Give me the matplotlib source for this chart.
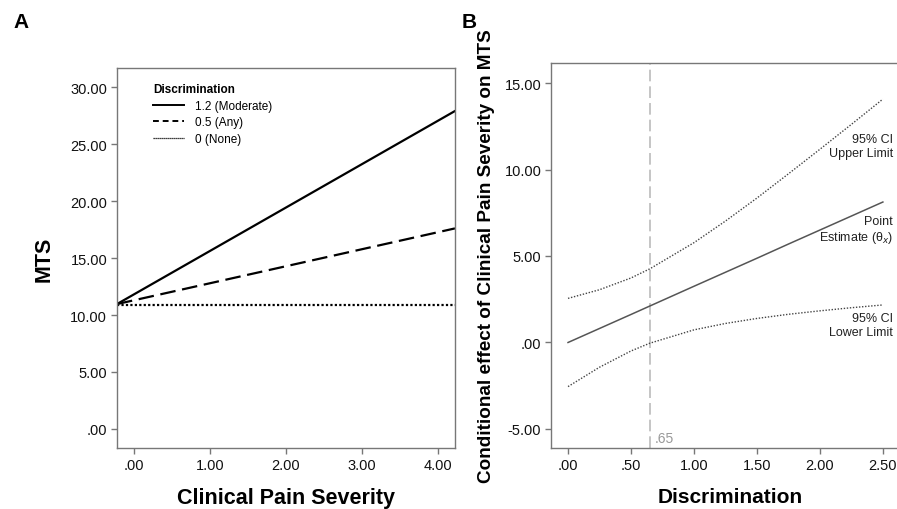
import matplotlib.pyplot as plt
from matplotlib.lines import Line2D

plt.rcParams['font.family'] = ['Liberation Sans', 'DejaVu Sans']

# ---- panel A data: simple slopes of MTS on clinical pain severity
pain_x = [-0.22, 4.22]
mts_moderate = [10.96, 27.9]
mts_any = [10.96, 17.6]
mts_none = [10.9, 10.9]
disc_labels = ["1.2 (Moderate)", "0.5 (Any)", "0 (None)"]

# ---- panel B data: conditional effect over discrimination
disc_x = [0.0, 0.25, 0.5, 0.65, 1.0, 1.25, 1.5, 1.75, 2.0, 2.25, 2.5]
effect_est = [0.0, 0.81, 1.62, 2.11, 3.25, 4.06, 4.87, 5.69, 6.5, 7.31, 8.12]
effect_upper = [2.55, 3.05, 3.73, 4.26, 5.77, 7.02, 8.35, 9.75, 11.17, 12.61, 14.07]
effect_lower = [-2.55, -1.43, -0.49, -0.04, 0.73, 1.10, 1.39, 1.63, 1.83, 2.01, 2.17]
jn_point = 0.65

spine_col = '#777777'

fig = plt.figure(figsize=(8.97, 5.10), dpi=100)
axA = fig.add_axes([0.1304, 0.1196, 0.3768, 0.745])
axB = fig.add_axes([0.6143, 0.1196, 0.40, 0.755])


def style_axis(ax):
    for s in ax.spines.values():
        s.set_color(spine_col)
        s.set_linewidth(1.0)
    ax.tick_params(direction='out', length=4, width=1, color=spine_col,
                   labelsize=10.5, labelcolor='#111111', pad=3)


# ============ Panel A ============
axA.plot(pain_x, mts_moderate, color='black', lw=1.6, ls='-')
axA.plot(pain_x, mts_any, color='black', lw=1.6, ls=(0, (7, 3)))
axA.plot(pain_x, mts_none, color='black', lw=1.6, ls=(0, (1, 1)))
axA.set_xlim(-0.22, 4.22)
axA.set_ylim(-1.67, 31.67)
axA.set_xticks([0, 1, 2, 3, 4])
axA.set_xticklabels(['.00', '1.00', '2.00', '3.00', '4.00'])
axA.set_yticks([0, 5, 10, 15, 20, 25, 30])
axA.set_yticklabels(['.00', '5.00', '10.00', '15.00', '20.00', '25.00', '30.00'])
axA.set_xlabel('Clinical Pain Severity', fontsize=15.5, fontweight='bold', labelpad=11)
axA.set_ylabel('MTS', fontsize=15.5, fontweight='bold', labelpad=11)
style_axis(axA)

handles = [Line2D([], [], color='black', lw=1.4, ls='-'),
           Line2D([], [], color='black', lw=1.4, ls=(0, (3, 2))),
           Line2D([], [], color='black', lw=0.9, ls=(0, (1, 0.6)))]
leg = axA.legend(handles, disc_labels, title='Discrimination', loc='upper left',
                 bbox_to_anchor=(0.08, 0.985), frameon=False, fontsize=8.5,
                 title_fontsize=8.5, handlelength=2.6, handletextpad=0.9,
                 labelspacing=0.38, borderpad=0.3)
leg.get_title().set_fontweight('bold')
leg._legend_box.align = 'left'

# ============ Panel B ============
axB.axvline(jn_point, color='#bbbbbb', lw=1.2, ls=(0, (7, 3)))
axB.plot(disc_x, effect_est, color='#555555', lw=1.1)
axB.plot(disc_x, effect_upper, color='#444444', lw=1.0, ls=(0, (1, 1.2)))
axB.plot(disc_x, effect_lower, color='#444444', lw=1.0, ls=(0, (1, 1.2)))
axB.set_xlim(-0.135, 2.714)
axB.set_ylim(-6.1, 16.16)
axB.set_xticks([0, 0.5, 1.0, 1.5, 2.0, 2.5])
axB.set_xticklabels(['.00', '.50', '1.00', '1.50', '2.00', '2.50'])
axB.set_yticks([-5, 0, 5, 10, 15])
axB.set_yticklabels(['-5.00', '.00', '5.00', '10.00', '15.00'])
axB.set_xlabel('Discrimination', fontsize=15, fontweight='bold', labelpad=11)
axB.set_ylabel('Conditional effect of Clinical Pain Severity on MTS',
               fontsize=13.6, fontweight='bold', labelpad=7)
style_axis(axB)

axB.text(jn_point + 0.04, -5.55, '.65', color='#999999', fontsize=10,
         ha='left', va='center')
axB.text(2.58, 11.36, '95% CI\nUpper Limit', fontsize=9, ha='right',
         va='center', color='#222222', linespacing=1.25)
axB.text(2.58, 6.5, 'Point\nEstimate (θ$_x$)', fontsize=9, ha='right',
         va='center', color='#222222', linespacing=1.25)
axB.text(2.58, 1.0, '95% CI\nLower Limit', fontsize=9, ha='right',
         va='center', color='#222222', linespacing=1.25)

fig.text(0.015, 0.945, 'A', fontsize=15, fontweight='bold')
fig.text(0.515, 0.945, 'B', fontsize=15, fontweight='bold')

fig.savefig('out.png', dpi=100)
